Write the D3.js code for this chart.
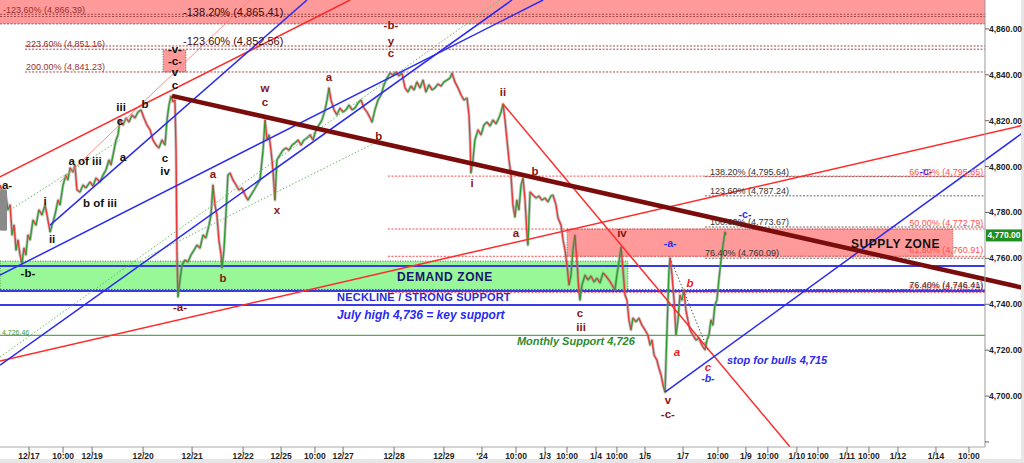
<!DOCTYPE html>
<html><head><meta charset="utf-8">
<script src="https://cdn.jsdelivr.net/npm/d3@7"></script>
<style>
html,body{margin:0;padding:0;background:#fff;}
svg{display:block;font-family:"Liberation Sans",Arial,sans-serif;}
</style></head><body>
<svg id="c" width="1024" height="463"></svg>
<script>
// ---------------- DATA ----------------
// price path: [trading hours since chart start, price]
const priceSeries = [
[0,4792.0],[1.4,4787.6],[2.3,4789.8],[3.6,4781.1],[4.6,4783.3],[5.5,4770.2],[6.4,4774.5],[7.3,4763.6],[8.2,4768.0],[9.1,4761.5],[10.0,4758.0],[10.9,4764.5],[11.8,4761.5],[12.7,4770.2],[13.7,4768.0],[15.0,4776.7],[16.4,4774.5],[17.7,4781.1],[19.1,4778.9],[20.5,4783.3],[21.4,4778.9],[22.8,4771.5],[23.7,4774.5],[25.0,4778.9],[26.4,4785.4],[27.3,4783.3],[28.7,4792.0],[30.0,4796.3],[30.9,4794.2],[31.9,4799.4],[33.2,4797.6],[34.1,4800.7],[35.0,4789.8],[36.4,4788.9],[37.8,4792.0],[39.1,4790.7],[41.0,4793.3],[42.3,4791.5],[43.7,4795.0],[45.5,4793.3],[46.9,4796.3],[48.2,4798.5],[49.6,4802.9],[50.5,4800.7],[51.9,4807.2],[52.8,4811.6],[53.7,4813.8],[54.6,4820.3],[56.0,4818.1],[57.3,4821.2],[58.7,4819.4],[60.1,4822.5],[61.4,4821.2],[62.8,4823.8],[64.2,4824.7],[65.5,4821.2],[66.9,4818.1],[68.3,4816.0],[69.6,4811.6],[71.0,4809.4],[72.3,4808.1],[73.7,4811.6],[75.1,4809.4],[76.0,4820.3],[76.9,4826.8],[77.8,4830.8],[78.7,4828.2],[79.6,4829.0],[80.1,4807.2],[80.5,4763.6],[81.0,4743.2],[81.9,4750.6],[82.8,4757.1],[84.2,4759.3],[85.5,4758.4],[86.9,4761.5],[88.3,4763.6],[89.6,4765.8],[91.0,4764.5],[92.4,4770.2],[93.7,4768.9],[95.1,4774.5],[96.0,4778.9],[96.9,4792.0],[97.8,4783.3],[98.7,4778.9],[99.6,4768.0],[100.6,4761.5],[101.0,4755.8],[101.9,4763.6],[102.8,4778.9],[103.7,4796.3],[104.7,4797.2],[106.0,4794.2],[107.4,4792.0],[108.7,4789.8],[110.1,4790.7],[111.5,4787.6],[112.8,4785.4],[114.2,4787.6],[115.6,4789.8],[116.9,4792.0],[118.3,4794.2],[119.7,4807.2],[120.6,4820.3],[121.5,4811.6],[122.4,4813.8],[123.3,4807.2],[124.2,4798.5],[125.1,4785.4],[126.0,4802.9],[127.4,4805.1],[128.8,4807.2],[130.1,4808.1],[131.5,4807.2],[132.9,4809.4],[134.2,4810.3],[135.6,4811.6],[137.0,4809.4],[138.3,4811.6],[139.7,4812.5],[141.1,4813.8],[142.4,4811.6],[143.8,4816.0],[145.1,4818.1],[146.5,4820.3],[147.9,4824.7],[148.8,4829.0],[149.7,4834.3],[150.6,4829.0],[152.0,4824.7],[153.3,4822.5],[154.7,4825.5],[156.1,4823.8],[157.4,4824.7],[158.8,4826.8],[160.2,4824.7],[161.5,4825.5],[162.9,4827.7],[164.3,4829.0],[165.6,4825.5],[167.0,4823.8],[168.4,4821.2],[169.3,4819.4],[170.6,4824.7],[172.0,4829.0],[173.4,4831.2],[174.7,4835.6],[176.1,4838.6],[177.5,4840.8],[178.8,4839.9],[180.2,4841.2],[181.5,4839.5],[182.9,4840.8],[184.3,4834.3],[185.6,4832.5],[187.0,4835.1],[188.4,4833.4],[189.7,4836.9],[191.1,4834.3],[192.5,4837.7],[193.8,4832.5],[195.2,4835.6],[196.6,4833.4],[197.9,4834.3],[199.3,4836.0],[200.7,4835.1],[202.0,4836.9],[203.4,4837.7],[204.8,4838.6],[205.7,4840.8],[207.0,4836.9],[208.4,4834.3],[209.8,4831.2],[211.1,4829.0],[212.5,4829.9],[213.4,4822.5],[213.9,4811.6],[214.3,4797.2],[215.2,4802.9],[216.1,4811.6],[217.5,4816.0],[218.9,4813.8],[220.2,4818.1],[221.6,4819.4],[223.0,4817.7],[224.3,4820.3],[225.7,4818.6],[227.0,4821.2],[228.0,4823.8],[228.9,4827.3],[229.8,4820.3],[230.7,4811.6],[231.6,4802.9],[232.5,4796.3],[233.4,4783.3],[234.3,4778.0],[235.2,4785.4],[236.1,4781.1],[237.1,4792.0],[238.0,4795.0],[238.9,4785.4],[239.8,4770.2],[240.2,4765.8],[241.2,4788.9],[242.5,4787.6],[243.9,4786.3],[245.2,4787.2],[246.6,4785.4],[248.0,4786.3],[249.3,4784.6],[250.7,4787.2],[251.6,4787.6],[253.0,4783.3],[253.9,4777.6],[255.3,4774.5],[256.2,4768.0],[257.1,4763.6],[258.0,4757.1],[258.9,4748.4],[259.8,4752.7],[260.7,4763.6],[261.6,4770.2],[262.5,4759.3],[263.4,4746.2],[263.9,4741.8],[264.8,4748.4],[266.2,4752.7],[267.5,4750.6],[268.9,4752.3],[270.3,4749.7],[271.6,4751.4],[273.0,4749.3],[274.4,4753.6],[275.7,4752.3],[277.1,4750.6],[278.5,4748.4],[279.8,4746.2],[280.7,4752.7],[282.1,4761.5],[282.6,4764.9],[283.5,4754.9],[284.4,4744.0],[285.3,4741.8],[286.2,4733.1],[287.1,4728.8],[288.0,4734.0],[289.4,4732.3],[290.7,4734.0],[292.1,4730.9],[293.5,4728.8],[294.8,4726.6],[295.8,4722.2],[296.7,4724.4],[297.6,4717.9],[298.9,4715.7],[299.8,4712.2],[300.8,4709.2],[301.7,4704.8],[302.6,4701.7],[303.5,4728.8],[304.4,4754.9],[304.9,4760.2],[305.8,4752.7],[306.7,4741.8],[307.6,4726.6],[308.5,4733.1],[309.4,4744.0],[310.3,4741.8],[311.2,4746.2],[312.1,4737.5],[313.0,4733.1],[314.0,4728.8],[315.3,4726.6],[316.7,4724.4],[318.0,4725.3],[319.4,4722.2],[320.8,4720.1],[321.7,4724.4],[322.6,4726.6],[323.5,4733.1],[324.4,4730.9],[325.3,4739.7],[326.2,4741.8],[327.1,4750.6],[328.1,4759.3],[329.0,4765.8],[329.9,4771.5],[330.3,4770.2]
];
const lastPrice = 4770.00;

const xTickHours  = [13.2,28.7,41.9,65.1,87.4,110.6,127.9,143.3,156.1,179.3,202.0,219.3,234.8,248.0,258.0,271.2,280.7,293.5,310.8,326.7,339.4,349.4,362.6,372.2,385.4,395.4,408.6,425.9,440.9];
const xTickLabels = ["12/17","10:00","12/19","12/20","12/21","12/22","12/25","10:00","12/27","12/28","12/29","'24","10:00","1/3","10:00","1/4","10:00","1/5","1/7","10:00","1/9","10:00","1/10","10:00","1/11","10:00","1/12","1/14","10:00"];
const yTickValues = [4700,4720,4740,4760,4780,4800,4820,4840,4860];

// zones: [hStart, hEnd, vLow, vHigh]
const topZone    = [0, 448.2, 4862.2, 4872.6];
const supplyZone = [258.0, 433.6, 4760.91, 4772.79];
const demandZone = [0, 285.7, 4745.8, 4758.8];
const waveCBox   = [74.2, 84.6, 4841.2, 4850.8];

// horizontal levels: [value, hStart, hEnd]
const fibDarkRedLevels = [[4866.39,0,448.2],[4865.41,0,448.2],[4852.56,11.4,448.2],[4851.16,11.4,448.2],[4841.23,11.4,448.2]];
const fibGreyLevels    = [[4862.2,0,448.2],[4795.64,320.8,448.2],[4787.24,320.8,448.2],[4773.67,320.8,448.2],[4760.09,320.8,448.2],[4746.41,320.8,448.2]];
const fibRedLevels     = [[4795.85,176.5,448.2],[4772.79,176.5,448.2],[4760.91,176.5,448.2],[4745.2,176.5,448.2]];
const blueLevels       = [4756.7, 4745.8, 4739.7];
const monthlySupport   = 4726.46;

// trend lines: [[h1,v1],[h2,v2]]
const maroonLine   = [[78.3,4830.8],[465.9,4747.1]];
const redLines     = [[[0,4795.5],[159.3,4872.6]], [[0,4715.3],[465.9,4818.1]], [[228.9,4827.3],[359.5,4677.8]]];
const pinkLines    = [[[27.3,4793.3],[113.8,4872.6]]];
const blueLines    = [[[22.8,4774.5],[139.7,4872.6]], [[0,4752.7],[247.1,4872.6]], [[0,4713.5],[233.0,4872.6]], [[302.6,4701.7],[465.9,4815.1]]];
const greenDotLines= [[[0,4717.0],[227.5,4872.6]], [[4.6,4781.1],[54.6,4811.6]], [[66.0,4760.2],[172.0,4811.0]]];
const greyDotLines = [[[304.9,4760.2],[322.1,4720.1]]];

// wave labels: [text, h, v]
const blackLabels = [["-b-",12.7,4753.6],["i",20.5,4785.0],["ii",23.7,4768.4],["a of iii",38.7,4802.4],["b of iii",45.5,4784.1],["a",56.0,4804.2],["iii",55.1,4826.0],["c",54.6,4819.9],["b",66.0,4827.3],["c",75.1,4803.7],["iv",75.1,4798.1],["-v-",79.6,4851.3],["-c-",79.6,4846.0],["v",79.6,4841.2],["c",79.6,4835.6]];
const edgeLabels = [["a-",0.9,4792.0]];
const darkRedLabels = [["-a-",81.9,4738.8],["a",96.9,4796.8],["b",101.5,4751.4],["w",120.6,4834.3],["c",120.6,4828.2],["x",126.0,4781.1],["a",149.7,4839.1],["b",172.4,4813.3],["-b-",177.9,4861.7],["y",177.9,4854.7],["c",177.9,4849.5],["ii",228.9,4832.5],["i",214.8,4792.8],["b",243.4,4798.1],["a",234.8,4771.1],["c",263.9,4736.2],["iii",264.4,4730.1],["iv",283.0,4771.1],["v",303.9,4698.3],["-c-",303.9,4692.2]];
const redItalicLabels = [["b",314.0,4749.3],["a",308.0,4719.2],["c",322.1,4712.6]];
const blueWaveLabels = [["-a-",304.9,4766.7,false],["-b-",322.1,4707.8,true],["-c-",339.0,4779.3,false],["-c-",421.3,4798.1,false]];

// fib text: [text, h, v]
const fibTextsTopSmall = [["-123.60% (4,866.39)",1.4,4868.3],["223.60% (4,851.16)",11.8,4853.4],["200.00% (4,841.23)",11.8,4843.4]];
const fibTextsTopLarge = [["-138.20% (4,865.41)",83.3,4867.4],["-123.60% (4,852.56)",83.3,4854.7]];
const fibTextsGrey = [["138.20% (4,795.64)",323.1,4797.6],["123.60% (4,787.24)",323.1,4789.4],["100.00% (4,773.67)",323.1,4775.8],["76.40% (4,760.09)",320.8,4762.3]];
const fibTextsRightRed = [["66.70% (4,795.85)",4797.6],["50.00% (4,772.79)",4775.4],["61.80% (4,760.91)",4763.6],["61.80% (4,745.79)",4747.4]];
const fibTextsRightGrey = [["76.40% (4,746.41)",4748.6]];

// ---------------- DRAW ----------------
const svg = d3.select('#c');
const x = d3.scaleLinear().domain([0,448.2]).range([0,985]);
const y = d3.scaleLinear().domain([4677.8,4872.6]).range([447,0]);
const line = d3.line().x(d=>x(d[0])).y(d=>y(d[1]));

svg.append('rect').attr('width',1024).attr('height',463).attr('fill','#fff');
const defs = svg.append('defs');
defs.append('clipPath').attr('id','clipAll').append('rect').attr('x',0).attr('y',0).attr('width',1024).attr('height',y.range()[0]);
defs.append('clipPath').attr('id','clipPlot').append('rect').attr('x',0).attr('y',0).attr('width',x.range()[1]).attr('height',y.range()[0]);

const g = svg.append('g');

function zone(z, fill, stroke){
  g.append('rect').attr('x',x(z[0])).attr('y',y(z[3])).attr('width',x(z[1])-x(z[0])).attr('height',y(z[2])-y(z[3]))
    .attr('fill',fill).attr('stroke',stroke||'none').attr('stroke-width',1).attr('stroke-dasharray','1,1.5');
}
zone(topZone,'#ff9a9a');
zone(supplyZone,'#ff9a9a','#9a6a6a');
zone(demandZone,'#98f898','#557755');
zone(waveCBox,'#ff9a9a','#666');

function hlevel(arr, color, dash, w){
  arr.forEach(l=>{
    g.append('line').attr('x1',x(l[1])).attr('x2',x(l[2])).attr('y1',y(l[0])).attr('y2',y(l[0]))
      .attr('stroke',color).attr('stroke-width',w||1).attr('stroke-dasharray',dash);
  });
}
hlevel(fibDarkRedLevels,'#a04848','2,1.5');
hlevel(fibGreyLevels,'#666','2,1.5');
hlevel(fibRedLevels,'#ff4a4a','2,1.5');
blueLevels.forEach(v=>{
  g.append('line').attr('x1',x(0)).attr('x2',x(448.2)).attr('y1',y(v)).attr('y2',y(v)).attr('stroke','#3a3ae6').attr('stroke-width',2);
});
g.append('line').attr('x1',x(0)).attr('x2',x(448.2)).attr('y1',y(blueLevels[1])-1.5).attr('y2',y(blueLevels[1])-1.5).attr('stroke','#333').attr('stroke-width',0.8).attr('stroke-dasharray','1.5,1.5');
g.append('line').attr('x1',x(0)).attr('x2',x(448.2)).attr('y1',y(monthlySupport)).attr('y2',y(monthlySupport)).attr('stroke','#55aa55').attr('stroke-width',1.2);

// price
const pg = g.append('g').attr('clip-path','url(#clipPlot)');
pg.append('path').datum(priceSeries).attr('d',line).attr('fill','none').attr('stroke','#8a8a8a').attr('stroke-width',3).attr('stroke-opacity',0.5).attr('stroke-linejoin','round');
for(let i=1;i<priceSeries.length;i++){
  const a=priceSeries[i-1], b=priceSeries[i];
  pg.append('line').attr('x1',x(a[0])).attr('y1',y(a[1])).attr('x2',x(b[0])).attr('y2',y(b[1]))
    .attr('stroke', b[1]>=a[1] ? '#2f9e2f' : '#e83a3a').attr('stroke-width',1.4);
}

// trend lines
const tg = g.append('g').attr('clip-path','url(#clipAll)');
function tl(arr,color,w,dash,op){
  arr.forEach(p=>{
    tg.append('path').datum(p).attr('d',line).attr('fill','none').attr('stroke',color).attr('stroke-width',w)
      .attr('stroke-dasharray',dash||null).attr('stroke-opacity',op||1);
  });
}
tl(greenDotLines,'#66bb66',1,'1.5,2');
tl(pinkLines,'#ff8080',1,null,0.9);
tl(greyDotLines,'#555',1,'1.5,2');
tl(redLines,'#ff2a2a',1.5);
tl(blueLines,'#2b2bef',1.5);
tl([maroonLine],'#7a0c0c',4.5);

// left tab
g.append('rect').attr('x',0).attr('y',y(4790.0)).attr('width',7).attr('height',y(4772.0)-y(4790.0)).attr('rx',1.5).attr('fill','#8a8a8a');

// text helpers
function txt(t,h,v,o){
  const e = g.append('text').attr('x',x(h)).attr('y',y(v)).attr('dominant-baseline','central')
    .attr('text-anchor',o.anchor||'middle').attr('font-size',o.size||11).attr('font-weight',o.weight||'bold')
    .attr('fill',o.color||'#111').text(t);
  if(o.italic) e.attr('font-style','italic');
  if(o.ls!==undefined) e.attr('letter-spacing',o.ls);
  return e;
}
blackLabels.forEach(d=>txt(d[0],d[1],d[2],{color:'#111',size:11.5}));
edgeLabels.forEach(d=>txt(d[0],d[1],d[2],{anchor:'start',color:'#111',size:11.5}));
darkRedLabels.forEach(d=>txt(d[0],d[1],d[2],{color:'#8b1515',size:11.5}));
redItalicLabels.forEach(d=>txt(d[0],d[1],d[2],{color:'#ee2222',size:11.5,italic:true}));
blueWaveLabels.forEach(d=>txt(d[0],d[1],d[2],{color:'#2b2bef',size:10.5,italic:d[3]}));

fibTextsTopSmall.forEach(d=>txt(d[0],d[1],d[2],{anchor:'start',size:9,weight:'normal',color:'#9a3030'}));
fibTextsTopLarge.forEach(d=>txt(d[0],d[1],d[2],{anchor:'start',size:11,weight:'normal',color:'#4a0a0a'}));
fibTextsGrey.forEach(d=>txt(d[0],d[1],d[2],{anchor:'start',size:9,weight:'normal',color:'#333'}));
fibTextsRightRed.forEach(d=>txt(d[0],447.4,d[1],{anchor:'end',size:9,weight:'normal',color:'#ff5050'}));
fibTextsRightGrey.forEach(d=>txt(d[0],447.4,d[1],{anchor:'end',size:9,weight:'normal',color:'#333'}));

txt('SUPPLY ZONE',407.5,4766.3,{size:12,color:'#111',ls:0.5});
txt('DEMAND ZONE',202.5,4751.9,{size:12,color:'#16166e',ls:0.6});
txt('NECKLINE / STRONG SUPPORT',192.9,4743.0,{size:11,color:'#2b2bd8',ls:0.2});
txt('July high 4,736 = key support',153.3,4735.3,{anchor:'start',size:12,color:'#2b2bef',italic:true});
txt('Monthly Support 4,726',235.2,4724.0,{anchor:'start',size:11,color:'#2e8b2e',italic:true});
txt('stop for bulls 4,715',330.8,4715.7,{anchor:'start',size:11,color:'#2b2bef',italic:true});
txt('4,726.46',0.9,4727.9,{anchor:'start',size:7,weight:'normal',color:'#3a9a3a'});

// axes
const ax = svg.append('g');
ax.append('rect').attr('x',0).attr('y',459).attr('width',1024).attr('height',4).attr('fill','#e6e6e6');
ax.append('rect').attr('x',1021).attr('y',0).attr('width',3).attr('height',463).attr('fill','#e6e6e6');
ax.append('line').attr('x1',x(448.2)).attr('x2',x(448.2)).attr('y1',0).attr('y2',447).attr('stroke','#999');
ax.append('line').attr('x1',0).attr('x2',x(448.2)).attr('y1',447).attr('y2',447).attr('stroke','#aaa');
yTickValues.concat([4680]).forEach(v=>{
  ax.append('line').attr('x1',x(448.2)).attr('x2',x(448.2)+4).attr('y1',y(v)).attr('y2',y(v)).attr('stroke','#666');
});
yTickValues.forEach(v=>{
  ax.append('text').attr('x',x(448.2)+4).attr('y',y(v)).attr('dominant-baseline','central').attr('font-size',8.5)
    .attr('font-weight','bold').attr('fill','#222').text(d3.format(',.2f')(v));
});
xTickHours.forEach((h,i)=>{
  ax.append('line').attr('x1',x(h)).attr('x2',x(h)).attr('y1',447).attr('y2',453).attr('stroke','#777');
  ax.append('text').attr('x',x(h)).attr('y',456).attr('dominant-baseline','central').attr('text-anchor','middle')
    .attr('font-size',8.5).attr('font-weight','bold').attr('fill','#222').text(xTickLabels[i]);
});
// last price box
ax.append('rect').attr('x',x(448.2)+1).attr('y',y(lastPrice)-6).attr('width',36).attr('height',12).attr('fill','#1f8f1f');
ax.append('text').attr('x',x(448.2)+19).attr('y',y(lastPrice)).attr('dominant-baseline','central').attr('text-anchor','middle')
  .attr('font-size',8.5).attr('font-weight','bold').attr('fill','#fff').text(d3.format(',.2f')(lastPrice));
</script>
</body></html>
